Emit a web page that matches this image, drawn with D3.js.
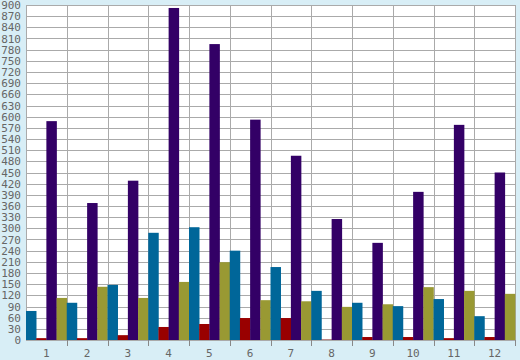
<!DOCTYPE html>
<html>
<head>
<meta charset="utf-8">
<script src="https://cdn.jsdelivr.net/npm/d3@7"></script>
<style>
  body { margin: 0; background: #d8eef6; }
  .tick text { font-family: "DejaVu Sans Mono", monospace; font-size: 11px; fill: #666; }
</style>
</head>
<body>
<div id="chart"></div>
<script>
// data
var categories = ["1","2","3","4","5","6","7","8","9","10","11","12"];
var seriesNames = ["teal","red","purple","olive"];
var teal   = [78, 100, 148, 288, 303, 240, 196, 132, 100, 91, 110, 64];
var red    = [5, 5, 13, 35, 43, 59, 59, 1, 8, 8, 5, 8];
var purple = [588, 368, 428, 892, 795, 592, 495, 325, 261, 398, 578, 450];
var olive  = [113, 143, 113, 156, 209, 107, 104, 89, 96, 142, 132, 124];
var yTicks = d3.range(0, 901, 30);

var colors = {teal: "#006699", red: "#990000", purple: "#330066", olive: "#999933"};
var values = {teal: teal, red: red, purple: purple, olive: olive};

var W = 520, H = 360;
var margin = {top: 5, right: 5, bottom: 20, left: 26};
var width = W - margin.left - margin.right,
    height = H - margin.top - margin.bottom;

var svg = d3.select("#chart").append("svg")
    .attr("width", W).attr("height", H);

var g = svg.append("g")
    .attr("transform", "translate(" + margin.left + "," + margin.top + ")");

var x0 = d3.scaleBand().domain(categories).range([0, width]).padding(0);
var x1 = d3.scaleBand().domain(seriesNames).range([0, x0.bandwidth()]).padding(0);
var y = d3.scaleLinear().domain([0, 900]).range([height, 0]);

// plot background
g.append("rect")
    .attr("width", width).attr("height", height)
    .attr("fill", "#fff");

// horizontal grid
g.selectAll(".hgrid").data(yTicks).enter().append("line")
    .attr("x1", 0).attr("x2", width)
    .attr("y1", function(d){ return Math.round(y(d)) + 0.5; })
    .attr("y2", function(d){ return Math.round(y(d)) + 0.5; })
    .attr("stroke", "#aaa");

// vertical grid at group boundaries
g.selectAll(".vgrid").data(categories).enter().append("line")
    .attr("x1", function(d){ return Math.round(x0(d) + x0.bandwidth()) + 0.5; })
    .attr("x2", function(d){ return Math.round(x0(d) + x0.bandwidth()) + 0.5; })
    .attr("y1", 0).attr("y2", height)
    .attr("stroke", "#aaa");

// border
g.append("rect")
    .attr("x", 0.5).attr("y", 0.5)
    .attr("width", width).attr("height", height - 0.5)
    .attr("fill", "none").attr("stroke", "#aaa");

// bars
var groups = g.selectAll(".grp").data(categories).enter().append("g")
    .attr("transform", function(d){ return "translate(" + x0(d) + ",0)"; });

groups.selectAll("rect").data(function(d, i){
    return seriesNames.map(function(s){ return {s: s, v: values[s][i]}; });
}).enter().append("rect")
    .attr("x", function(d){ return x1(d.s); })
    .attr("width", x1.bandwidth() + 0.3)
    .attr("y", function(d){ return y(d.v); })
    .attr("height", function(d){ return height - y(d.v); })
    .attr("fill", function(d){ return colors[d.s]; });

// y axis labels
var yAxis = d3.axisLeft(y).tickValues(yTicks).tickSize(0).tickPadding(5);
var ya = g.append("g").call(yAxis);
ya.select(".domain").remove();

// x axis: labels centered, ticks at group boundaries
var xAxis = d3.axisBottom(x0).tickSize(0).tickPadding(9);
var xa = g.append("g").attr("transform", "translate(0," + height + ")").call(xAxis);
xa.select(".domain").remove();

g.selectAll(".xt").data(categories).enter().append("line")
    .attr("x1", function(d){ return Math.round(x0(d) + x0.bandwidth()) + 0.5; })
    .attr("x2", function(d){ return Math.round(x0(d) + x0.bandwidth()) + 0.5; })
    .attr("y1", height).attr("y2", height + 6)
    .attr("stroke", "#888");
</script>
</body>
</html>
